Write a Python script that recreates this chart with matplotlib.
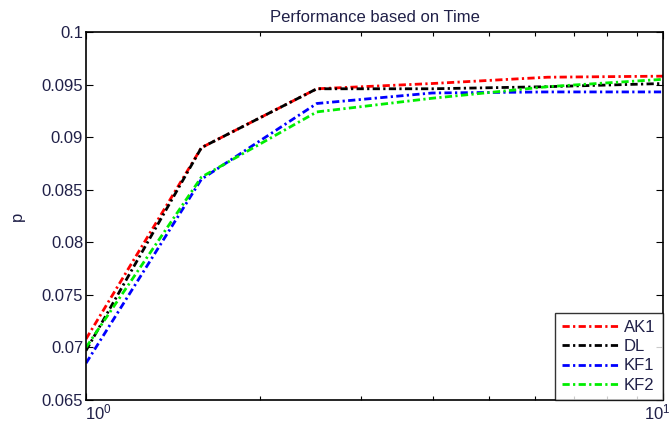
import matplotlib
matplotlib.use("Agg")
import matplotlib.pyplot as plt
import numpy as np
from matplotlib.ticker import LogLocator, NullFormatter
from matplotlib.transforms import ScaledTranslation

plt.rcParams['font.family'] = ['Liberation Sans', 'DejaVu Sans']
plt.rcParams['mathtext.fontset'] = 'custom'
plt.rcParams['mathtext.rm'] = 'Liberation Sans'

x = [1.0, 1.585, 2.512, 3.981, 6.310, 10.0]
ak1 = [0.0708, 0.0890, 0.0946, 0.0951, 0.0957, 0.0958]
dl = [0.0697, 0.0890, 0.0946, 0.0946, 0.0948, 0.0951]
kf1 = [0.0685, 0.0860, 0.0932, 0.0942, 0.0943, 0.0943]
kf2 = [0.0700, 0.0862, 0.0924, 0.0937, 0.0948, 0.0955]

series = [("AK1", ak1, "#ff0000"), ("DL", dl, "#000000"),
          ("KF1", kf1, "#0000ff"), ("KF2", kf2, "#00ee00")]

yticks = [0.065, 0.07, 0.075, 0.08, 0.085, 0.09, 0.095, 0.1]
ytick_labels = ["0.065", "0.07", "0.075", "0.08", "0.085", "0.09", "0.095", "0.1"]
xticks = [1, 10]
xtick_labels = [r"$\mathregular{10^{0}}$", r"$\mathregular{10^{1}}$"]

txtc = "#202048"
fig = plt.figure(figsize=(6.72, 4.28), dpi=100)
ax = fig.add_axes([86/672, 1-400/428, (663-86)/672, (400-32)/428])

ls = (0, (2.6, 1.2, 0.8, 1.2))
for name, vals, c in series:
    ax.plot(x, vals, color=c, lw=2.0, linestyle=ls, label=name)

ax.set_xscale('log')
ax.set_xlim(1, 10)
ax.set_ylim(0.065, 0.1)
ax.set_yticks(yticks)
ax.set_yticklabels(ytick_labels, color=txtc, fontsize=12)
ax.set_xticks(xticks)
ax.set_xticklabels(xtick_labels, color=txtc, fontsize=12)
ax.xaxis.set_minor_locator(LogLocator(base=10, subs=np.arange(2, 10)))
ax.xaxis.set_minor_formatter(NullFormatter())
ax.tick_params(which='both', direction='in', top=True, right=True)
ax.tick_params(which='major', length=5, width=0.8, pad=2)
ax.tick_params(which='minor', length=3, width=0.8)
xl = ax.get_xticklabels()
xl[0].set_ha('left')
xl[0].set_transform(xl[0].get_transform() + ScaledTranslation(-1/100, 0, fig.dpi_scale_trans))
xl[1].set_ha('right')
xl[1].set_transform(xl[1].get_transform() + ScaledTranslation(8/100, 0, fig.dpi_scale_trans))
for s in ax.spines.values():
    s.set_linewidth(1.2)

ax.set_title("Performance based on Time", fontsize=12, color=txtc, pad=7)
ax.set_ylabel("p", fontsize=12, color=txtc, labelpad=12)

leg = ax.legend(loc='lower right', bbox_to_anchor=(1, 0), borderaxespad=0,
                fancybox=False, edgecolor='black', fontsize=12,
                handlelength=3.4, handletextpad=0.3, labelspacing=0.25,
                borderpad=0.45)
leg.get_frame().set_linewidth(1.0)
for t in leg.get_texts():
    t.set_color(txtc)

fig.savefig("out.png", dpi=100)
